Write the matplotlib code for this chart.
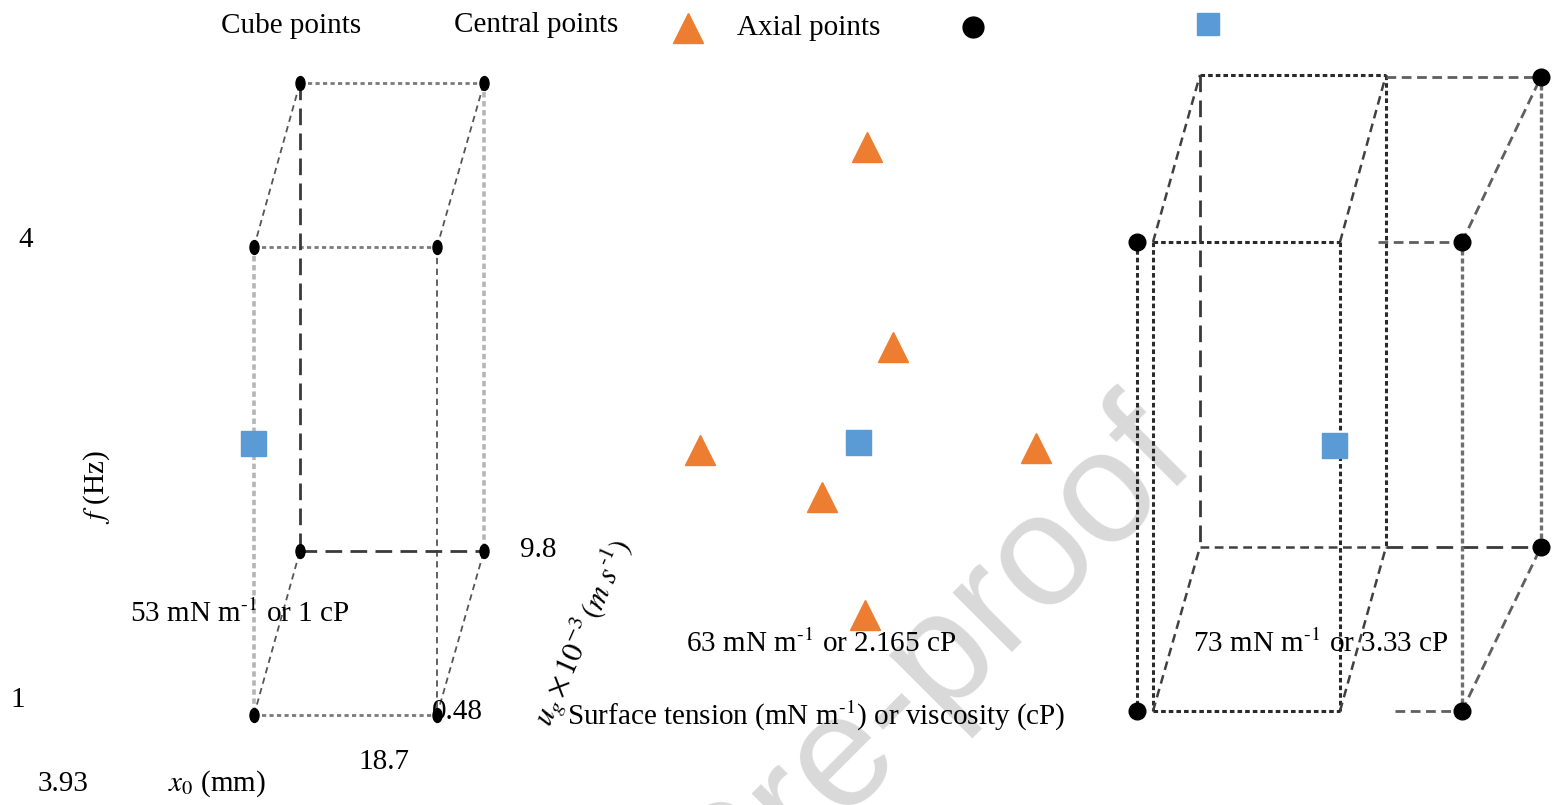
import numpy as np
import matplotlib.pyplot as plt
from matplotlib.path import Path
from matplotlib.transforms import Affine2D

plt.rcParams["font.family"] = ["Liberation Serif", "DejaVu Serif"]
plt.rcParams["mathtext.fontset"] = "stix"

# schematic drawn in picture units (x to the right, y downwards)
# left cube: 53 mN/m or 1 cP
left_x = [254, 437, 254, 437, 300, 484, 300, 484]
left_y = [247, 247, 715, 715, 83, 83, 551, 551]
# right cube: 73 mN/m or 3.33 cP
right_x = [1137, 1462, 1137, 1462, 1541, 1541]
right_y = [242, 242, 711, 711, 77, 547]
# inner (guide) box of the right cube
inner_x = [1153, 1340, 1153, 1340, 1200, 1386, 1200, 1386]
inner_y = [242, 242, 711, 711, 75, 75, 547, 547]

# axial and central points
axial_x = [867, 893, 700, 1036, 822, 865]
axial_y = [147, 347, 450, 448, 497, 615]
central_x = [253, 858, 1334]
central_y = [443, 442, 445]

# edges as (vertex a, vertex b, style)
left_edges = [
    (4, 5, "dot"), (0, 4, "thin"), (1, 5, "thin"), (0, 1, "dot"),
    (0, 2, "light"), (4, 6, "long"), (1, 3, "thin"), (5, 7, "light"),
    (6, 7, "long"), (2, 6, "thin"), (3, 7, "thin"), (2, 3, "dot"),
]
inner_edges = [
    (4, 5, "black"), (0, 4, "mid"), (1, 5, "mid"), (0, 1, "black"),
    (0, 2, "black"), (4, 6, "long"), (1, 3, "black"), (5, 7, "black"),
    (6, 7, "mid"), (2, 6, "mid"), (3, 7, "mid"), (2, 3, "black"),
]
outer_segments = [
    ((1386, 1541), (77, 77), "grey"),
    ((1378, 1462), (242, 242), "grey"),
    ((1386, 1541), (547, 547), "long"),
    ((1395, 1462), (711, 711), "grey"),
    ((1462, 1541), (242, 77), "grey"),
    ((1462, 1541), (711, 547), "grey"),
    ((1137, 1137), (242, 711), "black"),
    ((1462, 1462), (242, 711), "light2"),
    ((1541, 1541), (77, 547), "light2"),
]

styles = {
    "dot": dict(color="#7a7a7a", lw=2.0, dashes=(1.5, 1.2)),
    "thin": dict(color="#555555", lw=1.3, dashes=(3.5, 2.5)),
    "mid": dict(color="#404040", lw=1.8, dashes=(3.5, 2.2)),
    "light": dict(color="#b5b5b5", lw=2.6, dashes=(1.5, 1.0)),
    "long": dict(color="#3a3a3a", lw=2.0, dashes=(6, 3)),
    "black": dict(color="#2a2a2a", lw=2.2, dashes=(1.5, 1.0)),
    "grey": dict(color="#5f5f5f", lw=2.0, dashes=(3.5, 2)),
    "light2": dict(color="#6e6e6e", lw=2.4, dashes=(1.5, 0.9)),
}

orange = "#ED7D31"
blue = "#5B9BD5"

fig = plt.figure(figsize=(15.52, 8.05), dpi=100)
ax = fig.add_axes([0, 0, 1, 1])
ax.set_xlim(0, 1552)
ax.set_ylim(805, 0)
ax.axis("off")

# watermark
ax.text(1200, 465, "Journal Pre-proof", family="Liberation Sans", fontsize=115,
        color="#d9d9d9", rotation=45, rotation_mode="anchor",
        ha="right", va="baseline", zorder=0)

for a, b, s in left_edges:
    ax.plot([left_x[a], left_x[b]], [left_y[a], left_y[b]], zorder=2, **styles[s])
for a, b, s in inner_edges:
    ax.plot([inner_x[a], inner_x[b]], [inner_y[a], inner_y[b]], zorder=2, **styles[s])
for xs, ys, s in outer_segments:
    ax.plot(xs, ys, zorder=2, **styles[s])

ellipse = Path.unit_circle().transformed(Affine2D().scale(0.65, 1.0))
ax.plot(left_x, left_y, ls="none", marker=ellipse, ms=10, color="black", zorder=3)
ax.plot(right_x, right_y, ls="none", marker="o", ms=12, color="black", zorder=3)
ax.plot(axial_x, axial_y, ls="none", marker="^", ms=22, color=orange, zorder=3)
ax.plot(central_x, central_y, ls="none", marker="s", ms=18, color=blue, zorder=3)

# legend row
ax.text(221, 33, "Cube points", fontsize=21, ha="left", va="baseline")
ax.text(454, 32, "Central points", fontsize=21, ha="left", va="baseline")
ax.plot([688], [28], marker="^", ms=21, color=orange, ls="none")
ax.text(737, 35, "Axial points", fontsize=21, ha="left", va="baseline")
ax.plot([973], [27], marker="o", ms=15, color="black", ls="none")
ax.plot([1208], [24], marker="s", ms=16, color=blue, ls="none")

# axis-like labels
fs = 21
sup = r"$^{\text{-1}}$"
ax.text(26, 240, "4", fontsize=fs, ha="center", va="center")
ax.text(18, 700, "1", fontsize=fs, ha="center", va="center")
ax.text(97, 487, r"$f$ (Hz)", fontsize=fs, rotation=90, ha="center", va="center")
ax.text(130, 622, "53 mN m" + sup + " or 1 cP", fontsize=fs, ha="left", va="baseline")
ax.text(520, 557, "9.8", fontsize=fs, ha="left", va="baseline")
ax.text(432, 719, "0.48", fontsize=fs, ha="left", va="baseline")
ax.text(358, 769, "18.7", fontsize=fs, ha="left", va="baseline")
ax.text(38, 791, "3.93", fontsize=fs, ha="left", va="baseline")
ax.text(168, 791, r"$x_0$ (mm)", fontsize=fs, ha="left", va="baseline")
ax.text(583, 633, r"$u_g\times10^{-3}\,(m\ s^{\text{-1}})$", fontsize=22,
        rotation=66, rotation_mode="anchor", ha="center", va="center")
ax.text(686, 652, "63 mN m" + sup + " or 2.165 cP", fontsize=fs, ha="left", va="baseline")
ax.text(567, 725, "Surface tension (mN m" + sup + ") or viscosity (cP)", fontsize=fs,
        ha="left", va="baseline")
ax.text(1193, 652, "73 mN m" + sup + " or 3.33 cP", fontsize=fs, ha="left", va="baseline")

fig.savefig("out.png", dpi=100)
